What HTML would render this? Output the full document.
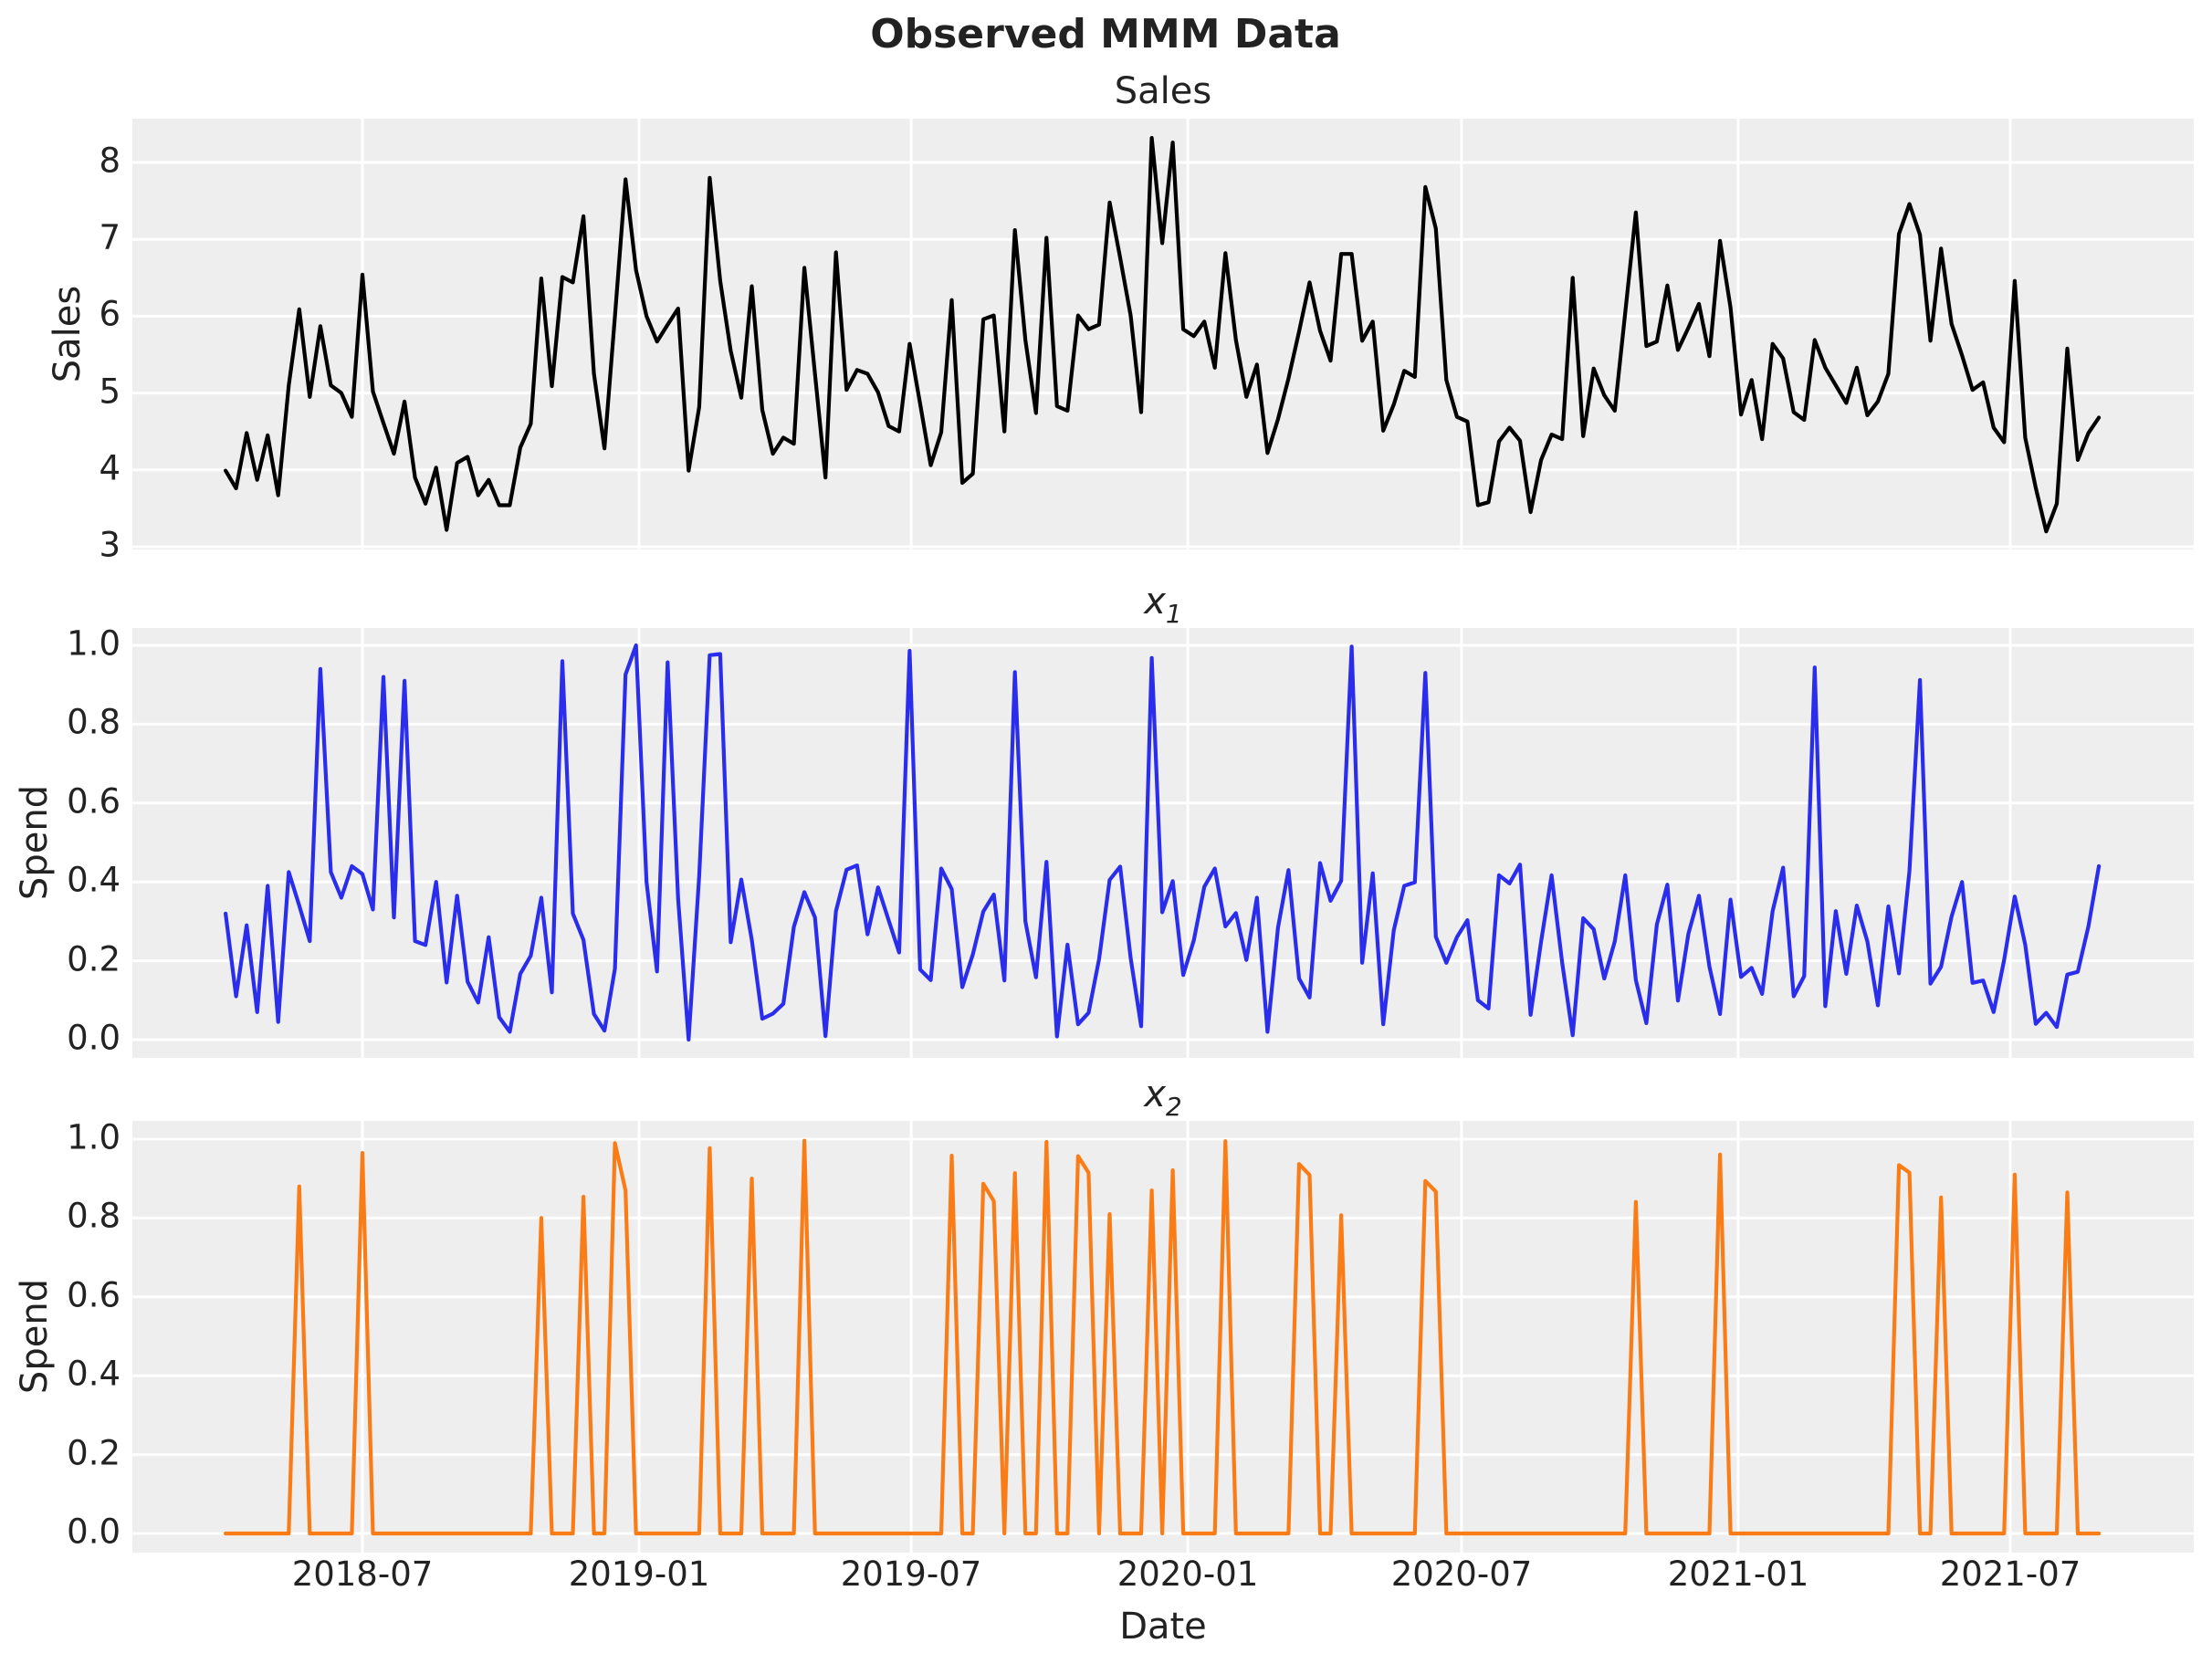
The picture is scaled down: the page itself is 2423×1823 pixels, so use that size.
<!DOCTYPE html>
<html><head><meta charset="utf-8"><style>
html,body{margin:0;padding:0;background:#fff;}
svg{display:block;font-family:"DejaVu Sans","Liberation Sans",sans-serif;}
</style></head><body>
<svg id="s" width="2423" height="1823" viewBox="0 0 2423 1823" xmlns="http://www.w3.org/2000/svg">
<rect x="0" y="0" width="2423" height="1823" fill="#fff"/>
<text x="1211" y="52" text-anchor="middle" font-size="44" font-weight="bold" fill="#222">Observed MMM Data</text>
<!-- panels -->
<rect x="145" y="130" width="2258" height="472" fill="#eeeeee"/>
<rect x="145" y="688" width="2258" height="471" fill="#eeeeee"/>
<rect x="145" y="1228" width="2258" height="473" fill="#eeeeee"/>
<g id="grid" stroke="#fff" stroke-width="3"></g>
<text x="1274" y="113" text-anchor="middle" font-size="40" fill="#222">Sales</text>
<text x="1274" y="672" text-anchor="middle" font-size="40" font-style="italic" fill="#222">x<tspan font-size="28" dy="10">1</tspan></text>
<text x="1274" y="1212" text-anchor="middle" font-size="40" font-style="italic" fill="#222">x<tspan font-size="28" dy="10">2</tspan></text>
<text transform="translate(76,366) rotate(-90)" text-anchor="middle" dominant-baseline="middle" font-size="40" fill="#222">Sales</text>
<text transform="translate(40,923) rotate(-90)" text-anchor="middle" dominant-baseline="middle" font-size="40" fill="#222">Spend</text>
<text transform="translate(40,1464) rotate(-90)" text-anchor="middle" dominant-baseline="middle" font-size="40" fill="#222">Spend</text>
<g font-size="37" fill="#222" text-anchor="end" dominant-baseline="middle">
<text x="132" y="599">3</text><text x="132" y="515">4</text><text x="132" y="431">5</text><text x="132" y="346">6</text><text x="132" y="262">7</text><text x="132" y="178">8</text>
<text x="132" y="1139">0.0</text><text x="132" y="1053">0.2</text><text x="132" y="966">0.4</text><text x="132" y="880">0.6</text><text x="132" y="793">0.8</text><text x="132" y="707">1.0</text>
<text x="132" y="1680">0.0</text><text x="132" y="1594">0.2</text><text x="132" y="1507">0.4</text><text x="132" y="1421">0.6</text><text x="132" y="1334">0.8</text><text x="132" y="1248">1.0</text>
</g>
<g font-size="37" fill="#222" text-anchor="middle">
<text x="397" y="1737">2018-07</text>
<text x="700" y="1737">2019-01</text>
<text x="998" y="1737">2019-07</text>
<text x="1301" y="1737">2020-01</text>
<text x="1601" y="1737">2020-07</text>
<text x="1904" y="1737">2021-01</text>
<text x="2202" y="1737">2021-07</text>
</g>
<text x="1274" y="1795" text-anchor="middle" font-size="40" fill="#222">Date</text>
<polyline id="p1" fill="none" stroke="#000" stroke-width="4.2" stroke-linejoin="round" stroke-linecap="round" points=""/>
<polyline id="p2" fill="none" stroke="#2a2eec" stroke-width="4.2" stroke-linejoin="round" stroke-linecap="round" points=""/>
<polyline id="p3" fill="none" stroke="#fa7c17" stroke-width="4.2" stroke-linejoin="round" stroke-linecap="round" points=""/>
</svg>
<script>
var NS="http://www.w3.org/2000/svg";
var g=document.getElementById("grid");
function ln(x1,y1,x2,y2){var l=document.createElementNS(NS,"line");l.setAttribute("x1",x1);l.setAttribute("y1",y1);l.setAttribute("x2",x2);l.setAttribute("y2",y2);g.appendChild(l);}
var days=[0,184,365,549,731,915,1096];
var panels=[[130,602],[688,1159],[1228,1701]];
days.forEach(function(d){var x=397+d*1.6469;panels.forEach(function(p){ln(x,p[0],x,p[1]);});});
for(var v=3;v<=8;v++){var y=599-(v-3)*84.2;ln(145,y,2403,y);}
for(var k=0;k<=5;k++){var y2=1139-k*0.2*432;ln(145,y2,2403,y2);var y3=1680-k*0.2*432;ln(145,y3,2403,y3);}
var s1=[3.99,3.76,4.48,3.87,4.45,3.67,5.10,6.09,4.95,5.87,5.10,5.0,4.69,6.54,5.02,4.61,4.21,4.89,3.90,3.56,4.03,3.22,4.09,4.17,3.67,3.87,3.54,3.54,4.29,4.60,6.49,5.09,6.51,6.44,7.30,5.25,4.28,6.0,7.78,6.60,6.0,5.67,5.89,6.10,3.99,4.82,7.80,6.46,5.55,4.94,6.39,4.78,4.21,4.42,4.34,6.63,5.25,3.90,6.83,5.04,
5.30,5.25,5.01,4.57,4.50,5.64,4.86,4.06,4.49,6.21,3.83,3.95,5.96,6.01,4.50,7.12,5.69,4.74,7.02,4.83,4.77,6.01,5.83,5.89,7.48,6.76,6.01,4.75,8.32,6.95,8.26,5.83,5.74,5.93,5.33,6.82,5.69,4.95,5.37,4.22,4.66,5.19,5.80,6.44,5.81,5.42,6.81,6.81,5.68,5.93,4.51,4.85,5.29,5.21,7.68,7.14,5.17,4.69,4.63,3.54,
3.58,4.37,4.55,4.38,3.45,4.13,4.46,4.40,6.50,4.44,5.32,4.97,4.77,6.05,7.35,5.61,5.67,6.40,5.56,5.85,6.16,5.48,6.98,6.11,4.72,5.17,4.40,5.64,5.45,4.75,4.65,5.69,5.33,5.10,4.87,5.33,4.71,4.89,5.25,7.07,7.46,7.06,5.68,6.88,5.90,5.49,5.04,5.14,4.55,4.36,6.46,4.42,3.77,3.20,3.56,5.58,4.13,4.48,4.68];
var s2=[0.32,0.11,0.29,0.07,0.39,0.045,0.425,0.34,0.25,0.94,0.425,0.36,0.44,0.42,0.33,0.92,0.31,0.91,0.25,0.24,0.40,0.145,0.365,0.147,0.094,0.26,0.057,0.02,0.167,0.213,0.36,0.12,0.96,0.32,0.253,0.065,0.023,0.18,0.926,1.0,0.40,0.173,0.957,0.357,0.0,0.416,0.975,0.978,0.247,0.406,0.253,0.053,0.066,0.091,0.286,0.374,0.31,0.009,0.326,0.431,
0.442,0.267,0.386,0.303,0.221,0.986,0.178,0.151,0.434,0.382,0.133,0.216,0.325,0.368,0.15,0.932,0.30,0.158,0.451,0.008,0.241,0.039,0.068,0.204,0.405,0.439,0.207,0.034,0.968,0.323,0.402,0.164,0.252,0.388,0.434,0.287,0.321,0.202,0.36,0.02,0.284,0.43,0.155,0.107,0.448,0.352,0.403,0.997,0.195,0.422,0.039,0.277,0.39,0.399,0.93,0.261,0.195,0.26,0.303,0.10,
0.079,0.417,0.396,0.444,0.063,0.249,0.417,0.195,0.011,0.308,0.28,0.155,0.249,0.417,0.151,0.042,0.292,0.393,0.099,0.269,0.365,0.185,0.065,0.355,0.159,0.182,0.116,0.326,0.436,0.11,0.161,0.944,0.085,0.326,0.167,0.34,0.249,0.087,0.338,0.168,0.428,0.912,0.142,0.185,0.312,0.40,0.144,0.15,0.07,0.202,0.363,0.241,0.04,0.068,0.032,0.165,0.172,0.287,0.44];
var s3=[];for(var i=0;i<179;i++)s3.push(0);
var sp={7:0.88,13:0.965,30:0.80,34:0.854,37:0.99,38:0.87,46:0.977,50:0.90,55:0.996,69:0.958,72:0.887,73:0.843,75:0.914,78:0.993,81:0.957,82:0.915,84:0.81,88:0.87,90:0.921,95:0.995,102:0.937,103:0.909,106:0.807,114:0.894,115:0.867,134:0.841,142:0.961,159:0.934,160:0.915,163:0.852,170:0.91,175:0.865};
for(var k2 in sp)s3[+k2]=sp[k2];
function pts(arr,f){return arr.map(function(v,i){return (247.1+i*11.528).toFixed(1)+","+f(v).toFixed(1);}).join(" ");}
document.getElementById("p1").setAttribute("points",pts(s1,function(v){return 599-(v-3)*84.2;}));
document.getElementById("p2").setAttribute("points",pts(s2,function(v){return 1139-v*432;}));
document.getElementById("p3").setAttribute("points",pts(s3,function(v){return 1680-v*432;}));
</script>
</body></html>
